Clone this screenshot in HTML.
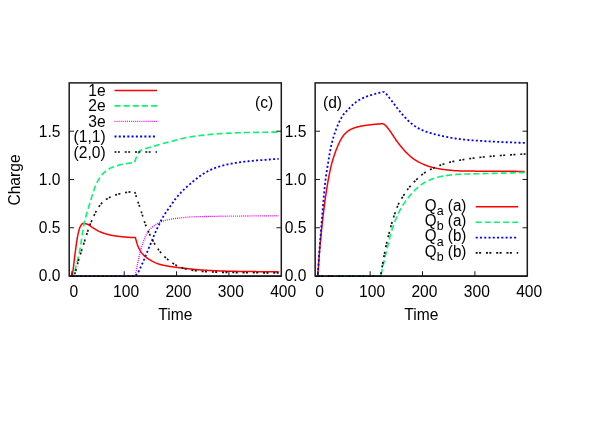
<!DOCTYPE html>
<html><head><meta charset="utf-8"><title>Charge vs Time</title>
<style>
html,body{margin:0;padding:0;background:#fff;}
body{width:615px;height:430px;overflow:hidden;}
svg{display:block;will-change:transform;font-family:"Liberation Sans",sans-serif;font-size:15.6px;fill:#000;}
</style></head><body>
<svg width="615" height="430" viewBox="0 0 615 430">
<rect width="615" height="430" fill="#fff"/>
<path d="M71.82 276.05 L72.34 274.34 L72.87 271.54 L73.39 267.68 L73.91 263.23 L74.44 258.68 L74.96 254.51 L75.48 250.58 L76.01 246.58 L76.53 242.72 L77.06 239.25 L77.58 236.39 L78.10 233.90 L78.63 231.59 L79.15 229.57 L79.67 227.94 L80.20 226.80 L80.72 225.85 L81.25 224.98 L81.77 224.25 L82.29 223.69 L82.82 223.38 L83.34 223.32 L83.86 223.36 L84.39 223.43 L84.91 223.53 L85.43 223.66 L85.96 223.80 L86.48 223.96 L87.01 224.13 L87.53 224.31 L88.05 224.50 L88.58 224.75 L89.10 225.06 L89.62 225.41 L90.15 225.78 L90.67 226.18 L91.20 226.58 L91.72 226.98 L92.24 227.35 L92.77 227.70 L93.29 228.02 L93.81 228.34 L94.34 228.66 L94.86 228.98 L95.39 229.30 L95.91 229.61 L96.43 229.92 L96.96 230.22 L97.48 230.52 L98.00 230.80 L98.53 231.08 L99.05 231.34 L99.57 231.59 L100.10 231.82 L100.62 232.03 L101.15 232.24 L101.67 232.44 L102.19 232.63 L102.72 232.82 L103.24 233.01 L103.76 233.19 L104.29 233.37 L104.81 233.54 L105.34 233.70 L105.86 233.86 L106.38 234.02 L106.91 234.17 L107.43 234.31 L107.95 234.45 L108.48 234.58 L109.00 234.71 L109.53 234.83 L110.05 234.95 L110.57 235.06 L111.10 235.16 L111.62 235.27 L112.14 235.37 L112.67 235.47 L113.19 235.56 L113.71 235.65 L114.24 235.74 L114.76 235.83 L115.29 235.91 L115.81 235.99 L116.33 236.07 L116.86 236.15 L117.38 236.22 L117.90 236.29 L118.43 236.36 L118.95 236.42 L119.48 236.48 L120.00 236.54 L120.52 236.60 L121.05 236.65 L121.57 236.70 L122.09 236.75 L122.62 236.80 L123.14 236.84 L123.67 236.89 L124.19 236.94 L124.71 236.98 L125.24 237.03 L125.76 237.07 L126.28 237.12 L126.81 237.16 L127.33 237.20 L127.85 237.24 L128.38 237.28 L128.90 237.32 L129.43 237.35 L129.95 237.38 L130.47 237.42 L131.00 237.45 L131.52 237.47 L132.04 237.50 L132.57 237.52 L133.09 237.55 L133.62 237.57 L134.14 237.58 L134.66 237.60 L135.19 237.61 L135.34 237.61 L135.34 237.61 L135.87 239.56 L136.39 241.42 L136.91 243.15 L137.44 244.73 L137.96 246.14 L138.49 247.35 L139.01 248.46 L139.53 249.48 L140.06 250.43 L140.58 251.30 L141.10 252.10 L141.63 252.81 L142.15 253.44 L142.68 254.03 L143.20 254.60 L143.72 255.13 L144.25 255.64 L144.77 256.13 L145.29 256.59 L145.82 257.03 L146.34 257.45 L146.87 257.85 L147.39 258.23 L147.91 258.59 L148.44 258.94 L148.96 259.28 L149.48 259.60 L150.01 259.91 L150.53 260.22 L151.05 260.52 L151.58 260.82 L152.10 261.11 L152.63 261.39 L153.15 261.66 L153.67 261.93 L154.20 262.18 L154.72 262.43 L155.24 262.67 L155.77 262.90 L156.29 263.12 L156.82 263.33 L157.34 263.53 L157.86 263.72 L158.39 263.90 L158.91 264.07 L159.43 264.22 L159.96 264.37 L160.48 264.51 L161.01 264.65 L161.53 264.78 L162.05 264.91 L162.58 265.03 L163.10 265.15 L163.62 265.27 L164.15 265.38 L164.67 265.49 L165.19 265.59 L165.72 265.69 L166.24 265.79 L166.77 265.89 L167.29 265.98 L167.81 266.07 L168.34 266.16 L168.86 266.25 L169.38 266.34 L169.91 266.42 L170.43 266.50 L170.96 266.59 L171.48 266.67 L172.00 266.75 L172.53 266.83 L173.05 266.90 L173.57 266.98 L174.10 267.05 L174.62 267.13 L175.15 267.20 L175.67 267.27 L176.19 267.33 L176.72 267.40 L177.24 267.47 L177.76 267.53 L178.29 267.59 L178.81 267.66 L179.33 267.72 L179.86 267.78 L180.38 267.84 L180.91 267.90 L181.43 267.96 L181.95 268.01 L182.48 268.07 L183.00 268.13 L183.52 268.19 L184.05 268.24 L184.57 268.30 L185.10 268.36 L185.62 268.42 L186.14 268.47 L186.67 268.53 L187.19 268.59 L187.71 268.65 L188.24 268.70 L188.76 268.76 L189.29 268.82 L189.81 268.88 L190.33 268.93 L190.86 268.99 L191.38 269.05 L191.90 269.10 L192.43 269.16 L192.95 269.21 L193.47 269.27 L194.00 269.32 L194.52 269.38 L195.05 269.43 L195.57 269.48 L196.09 269.53 L196.62 269.58 L197.14 269.63 L197.66 269.67 L198.19 269.72 L198.71 269.76 L199.24 269.81 L199.76 269.85 L200.28 269.89 L200.81 269.93 L201.33 269.97 L201.85 270.00 L202.38 270.04 L202.90 270.07 L203.43 270.10 L203.95 270.14 L204.47 270.17 L205.00 270.20 L205.52 270.23 L206.04 270.26 L206.57 270.29 L207.09 270.32 L207.61 270.35 L208.14 270.38 L208.66 270.41 L209.19 270.44 L209.71 270.47 L210.23 270.50 L210.76 270.52 L211.28 270.55 L211.80 270.58 L212.33 270.60 L212.85 270.63 L213.38 270.66 L213.90 270.68 L214.42 270.71 L214.95 270.73 L215.47 270.76 L215.99 270.78 L216.52 270.80 L217.04 270.83 L217.57 270.85 L218.09 270.87 L218.61 270.89 L219.14 270.91 L219.66 270.93 L220.18 270.95 L220.71 270.97 L221.23 270.99 L221.75 271.01 L222.28 271.03 L222.80 271.05 L223.33 271.07 L223.85 271.08 L224.37 271.10 L224.90 271.12 L225.42 271.13 L225.94 271.15 L226.47 271.16 L226.99 271.17 L227.52 271.19 L228.04 271.20 L228.56 271.21 L229.09 271.22 L229.61 271.24 L230.13 271.25 L230.66 271.26 L231.18 271.27 L231.71 271.28 L232.23 271.29 L232.75 271.30 L233.28 271.31 L233.80 271.32 L234.32 271.33 L234.85 271.34 L235.37 271.35 L235.89 271.36 L236.42 271.37 L236.94 271.38 L237.47 271.38 L237.99 271.39 L238.51 271.40 L239.04 271.41 L239.56 271.42 L240.08 271.42 L240.61 271.43 L241.13 271.44 L241.66 271.45 L242.18 271.45 L242.70 271.46 L243.23 271.47 L243.75 271.48 L244.27 271.48 L244.80 271.49 L245.32 271.50 L245.85 271.50 L246.37 271.51 L246.89 271.52 L247.42 271.52 L247.94 271.53 L248.46 271.53 L248.99 271.54 L249.51 271.55 L250.03 271.55 L250.56 271.56 L251.08 271.56 L251.61 271.57 L252.13 271.58 L252.65 271.58 L253.18 271.59 L253.70 271.59 L254.22 271.60 L254.75 271.60 L255.27 271.61 L255.80 271.61 L256.32 271.62 L256.84 271.63 L257.37 271.63 L257.89 271.64 L258.41 271.64 L258.94 271.65 L259.46 271.65 L259.99 271.66 L260.51 271.66 L261.03 271.67 L261.56 271.67 L262.08 271.68 L262.60 271.68 L263.13 271.69 L263.65 271.69 L264.17 271.70 L264.70 271.70 L265.22 271.71 L265.75 271.71 L266.27 271.71 L266.79 271.72 L267.32 271.72 L267.84 271.73 L268.36 271.73 L268.89 271.74 L269.41 271.74 L269.94 271.74 L270.46 271.75 L270.98 271.75 L271.51 271.76 L272.03 271.76 L272.55 271.76 L273.08 271.77 L273.60 271.77 L274.13 271.77 L274.65 271.78 L275.17 271.78 L275.70 271.78 L276.22 271.79 L276.74 271.79 L277.27 271.79 L277.79 271.80 L278.31 271.80 L278.68 271.80" fill="none" stroke="#ff0000" stroke-width="1.5" stroke-linejoin="round"/>
<path d="M71.82 276.05 L72.34 275.95 L72.87 275.69 L73.39 275.31 L73.91 274.70 L74.44 273.21 L74.96 271.06 L75.48 268.66 L76.01 266.39 L76.53 264.33 L77.06 262.24 L77.58 260.12 L78.10 257.94 L78.63 255.67 L79.15 253.30 L79.67 250.80 L80.20 248.11 L80.72 245.03 L81.25 241.65 L81.77 238.10 L82.29 234.51 L82.82 231.03 L83.34 227.77 L83.86 224.88 L84.39 222.43 L84.91 220.20 L85.43 218.13 L85.96 216.18 L86.48 214.33 L87.01 212.55 L87.53 210.83 L88.05 209.12 L88.58 207.42 L89.10 205.68 L89.62 203.90 L90.15 202.14 L90.67 200.41 L91.20 198.70 L91.72 197.02 L92.24 195.38 L92.77 193.77 L93.29 192.14 L93.81 190.54 L94.34 188.99 L94.86 187.51 L95.39 186.16 L95.91 184.93 L96.43 183.76 L96.96 182.66 L97.48 181.61 L98.00 180.62 L98.53 179.69 L99.05 178.83 L99.57 178.04 L100.10 177.27 L100.62 176.54 L101.15 175.85 L101.67 175.19 L102.19 174.56 L102.72 173.97 L103.24 173.42 L103.76 172.91 L104.29 172.43 L104.81 171.97 L105.34 171.53 L105.86 171.11 L106.38 170.71 L106.91 170.32 L107.43 169.95 L107.95 169.60 L108.48 169.27 L109.00 168.95 L109.53 168.66 L110.05 168.38 L110.57 168.12 L111.10 167.87 L111.62 167.64 L112.14 167.41 L112.67 167.20 L113.19 167.00 L113.71 166.80 L114.24 166.62 L114.76 166.44 L115.29 166.26 L115.81 166.09 L116.33 165.92 L116.86 165.76 L117.38 165.60 L117.90 165.44 L118.43 165.29 L118.95 165.15 L119.48 165.00 L120.00 164.87 L120.52 164.74 L121.05 164.61 L121.57 164.50 L122.09 164.39 L122.62 164.28 L123.14 164.18 L123.67 164.09 L124.19 164.00 L124.71 163.91 L125.24 163.83 L125.76 163.74 L126.28 163.66 L126.81 163.58 L127.33 163.50 L127.85 163.43 L128.38 163.35 L128.90 163.27 L129.43 163.19 L129.95 163.11 L130.47 163.04 L131.00 162.96 L131.52 162.89 L132.04 162.82 L132.57 162.75 L133.09 162.68 L133.62 162.61 L134.14 162.54 L134.66 162.48 L134.66 162.48 L135.19 160.72 L135.71 159.07 L136.23 157.59 L136.76 156.30 L137.28 155.12 L137.81 153.99 L138.33 152.95 L138.85 152.08 L139.38 151.41 L139.90 150.99 L140.42 150.65 L140.95 150.35 L141.47 150.08 L141.99 149.85 L142.52 149.65 L143.04 149.46 L143.57 149.28 L144.09 149.11 L144.61 148.94 L145.14 148.76 L145.66 148.58 L146.18 148.41 L146.71 148.25 L147.23 148.09 L147.76 147.93 L148.28 147.78 L148.80 147.64 L149.33 147.49 L149.85 147.35 L150.37 147.21 L150.90 147.07 L151.42 146.93 L151.95 146.79 L152.47 146.65 L152.99 146.50 L153.52 146.35 L154.04 146.19 L154.56 146.04 L155.09 145.88 L155.61 145.72 L156.13 145.56 L156.66 145.39 L157.18 145.23 L157.71 145.07 L158.23 144.90 L158.75 144.74 L159.28 144.58 L159.80 144.41 L160.32 144.25 L160.85 144.09 L161.37 143.94 L161.90 143.78 L162.42 143.63 L162.94 143.47 L163.47 143.33 L163.99 143.18 L164.51 143.04 L165.04 142.90 L165.56 142.77 L166.09 142.64 L166.61 142.51 L167.13 142.39 L167.66 142.27 L168.18 142.15 L168.70 142.03 L169.23 141.91 L169.75 141.79 L170.27 141.67 L170.80 141.55 L171.32 141.43 L171.85 141.30 L172.37 141.17 L172.89 141.04 L173.42 140.90 L173.94 140.76 L174.46 140.61 L174.99 140.45 L175.51 140.30 L176.04 140.14 L176.56 139.98 L177.08 139.83 L177.61 139.68 L178.13 139.53 L178.65 139.38 L179.18 139.24 L179.70 139.11 L180.23 138.99 L180.75 138.87 L181.27 138.75 L181.80 138.63 L182.32 138.51 L182.84 138.40 L183.37 138.29 L183.89 138.17 L184.41 138.06 L184.94 137.96 L185.46 137.85 L185.99 137.74 L186.51 137.64 L187.03 137.54 L187.56 137.43 L188.08 137.33 L188.60 137.24 L189.13 137.14 L189.65 137.05 L190.18 136.95 L190.70 136.86 L191.22 136.77 L191.75 136.68 L192.27 136.60 L192.79 136.51 L193.32 136.43 L193.84 136.35 L194.37 136.27 L194.89 136.20 L195.41 136.12 L195.94 136.05 L196.46 135.97 L196.98 135.90 L197.51 135.83 L198.03 135.76 L198.55 135.69 L199.08 135.63 L199.60 135.56 L200.13 135.50 L200.65 135.43 L201.17 135.37 L201.70 135.31 L202.22 135.24 L202.74 135.18 L203.27 135.13 L203.79 135.07 L204.32 135.01 L204.84 134.95 L205.36 134.90 L205.89 134.84 L206.41 134.79 L206.93 134.74 L207.46 134.69 L207.98 134.64 L208.51 134.59 L209.03 134.54 L209.55 134.49 L210.08 134.44 L210.60 134.40 L211.12 134.35 L211.65 134.31 L212.17 134.26 L212.69 134.22 L213.22 134.18 L213.74 134.14 L214.27 134.10 L214.79 134.05 L215.31 134.01 L215.84 133.98 L216.36 133.94 L216.88 133.90 L217.41 133.86 L217.93 133.82 L218.46 133.79 L218.98 133.75 L219.50 133.72 L220.03 133.68 L220.55 133.65 L221.07 133.61 L221.60 133.58 L222.12 133.55 L222.65 133.52 L223.17 133.48 L223.69 133.45 L224.22 133.42 L224.74 133.39 L225.26 133.36 L225.79 133.33 L226.31 133.31 L226.83 133.28 L227.36 133.25 L227.88 133.22 L228.41 133.19 L228.93 133.17 L229.45 133.14 L229.98 133.11 L230.50 133.09 L231.02 133.06 L231.55 133.03 L232.07 133.01 L232.60 132.98 L233.12 132.96 L233.64 132.93 L234.17 132.91 L234.69 132.88 L235.21 132.86 L235.74 132.84 L236.26 132.82 L236.79 132.80 L237.31 132.78 L237.83 132.76 L238.36 132.74 L238.88 132.72 L239.40 132.70 L239.93 132.68 L240.45 132.67 L240.97 132.65 L241.50 132.64 L242.02 132.62 L242.55 132.61 L243.07 132.60 L243.59 132.59 L244.12 132.57 L244.64 132.56 L245.16 132.55 L245.69 132.54 L246.21 132.53 L246.74 132.52 L247.26 132.51 L247.78 132.50 L248.31 132.49 L248.83 132.48 L249.35 132.47 L249.88 132.46 L250.40 132.45 L250.93 132.44 L251.45 132.43 L251.97 132.42 L252.50 132.42 L253.02 132.41 L253.54 132.40 L254.07 132.39 L254.59 132.38 L255.11 132.38 L255.64 132.37 L256.16 132.36 L256.69 132.35 L257.21 132.34 L257.73 132.33 L258.26 132.33 L258.78 132.32 L259.30 132.31 L259.83 132.30 L260.35 132.29 L260.88 132.29 L261.40 132.28 L261.92 132.27 L262.45 132.26 L262.97 132.25 L263.49 132.25 L264.02 132.24 L264.54 132.23 L265.07 132.22 L265.59 132.22 L266.11 132.21 L266.64 132.20 L267.16 132.20 L267.68 132.19 L268.21 132.18 L268.73 132.17 L269.25 132.17 L269.78 132.16 L270.30 132.15 L270.83 132.15 L271.35 132.14 L271.87 132.13 L272.40 132.13 L272.92 132.12 L273.44 132.11 L273.97 132.11 L274.49 132.10 L275.02 132.10 L275.54 132.09 L276.06 132.08 L276.59 132.08 L277.11 132.07 L277.63 132.07 L278.16 132.06 L278.68 132.06" fill="none" stroke="#0cf474" stroke-width="1.65" stroke-dasharray="6.0 3.135" stroke-dashoffset="3" stroke-linejoin="round"/>
<path d="M71.82 276.05 L72.34 276.05 L72.87 276.05 L73.39 276.05 L73.91 276.05 L74.44 276.05 L74.96 276.05 L75.48 276.05 L76.01 276.05 L76.53 276.05 L77.06 276.05 L77.58 276.05 L78.10 276.05 L78.63 276.05 L79.15 276.05 L79.67 276.05 L80.20 276.05 L80.72 276.05 L81.25 276.05 L81.77 276.05 L82.29 276.05 L82.82 276.05 L83.34 276.05 L83.86 276.05 L84.39 276.05 L84.91 276.05 L85.43 276.05 L85.96 276.05 L86.48 276.05 L87.01 276.05 L87.53 276.05 L88.05 276.05 L88.58 276.05 L89.10 276.05 L89.62 276.05 L90.15 276.05 L90.67 276.05 L91.20 276.05 L91.72 276.05 L92.24 276.05 L92.77 276.05 L93.29 276.05 L93.81 276.05 L94.34 276.05 L94.86 276.05 L95.39 276.05 L95.91 276.05 L96.43 276.05 L96.96 276.05 L97.48 276.05 L98.00 276.05 L98.53 276.05 L99.05 276.05 L99.57 276.05 L100.10 276.05 L100.62 276.05 L101.15 276.05 L101.67 276.05 L102.19 276.05 L102.72 276.05 L103.24 276.05 L103.76 276.05 L104.29 276.05 L104.81 276.05 L105.34 276.05 L105.86 276.05 L106.38 276.05 L106.91 276.05 L107.43 276.05 L107.95 276.05 L108.48 276.05 L109.00 276.05 L109.53 276.05 L110.05 276.05 L110.57 276.05 L111.10 276.05 L111.62 276.05 L112.14 276.05 L112.67 276.05 L113.19 276.05 L113.71 276.05 L114.24 276.05 L114.76 276.05 L115.29 276.05 L115.81 276.05 L116.33 276.05 L116.86 276.05 L117.38 276.05 L117.90 276.05 L118.43 276.05 L118.95 276.05 L119.48 276.05 L120.00 276.05 L120.52 276.05 L121.05 276.05 L121.57 276.05 L122.09 276.05 L122.62 276.05 L123.14 276.05 L123.67 276.05 L124.19 276.05 L124.71 276.05 L125.24 276.05 L125.76 276.05 L126.28 276.05 L126.81 276.05 L127.33 276.05 L127.85 276.05 L128.38 276.05 L128.90 276.05 L129.43 276.05 L129.95 276.05 L130.47 276.05 L131.00 276.05 L131.52 276.05 L132.04 276.05 L132.57 276.05 L133.09 276.05 L133.62 276.05 L134.14 276.05 L134.66 276.05 L135.19 276.05 L135.19 276.05 L135.71 273.30 L136.23 270.60 L136.76 267.94 L137.28 265.33 L137.81 262.76 L138.33 260.17 L138.85 257.64 L139.38 255.27 L139.90 253.14 L140.42 251.14 L140.95 249.26 L141.47 247.48 L141.99 245.79 L142.52 244.16 L143.04 242.56 L143.57 241.02 L144.09 239.56 L144.61 238.20 L145.14 236.98 L145.66 235.89 L146.18 234.87 L146.71 233.91 L147.23 233.01 L147.76 232.17 L148.28 231.39 L148.80 230.67 L149.33 230.02 L149.85 229.40 L150.37 228.83 L150.90 228.28 L151.42 227.78 L151.95 227.30 L152.47 226.86 L152.99 226.45 L153.52 226.06 L154.04 225.68 L154.56 225.31 L155.09 224.96 L155.61 224.61 L156.13 224.28 L156.66 223.96 L157.18 223.65 L157.71 223.35 L158.23 223.08 L158.75 222.81 L159.28 222.56 L159.80 222.33 L160.32 222.11 L160.85 221.91 L161.37 221.72 L161.90 221.53 L162.42 221.34 L162.94 221.17 L163.47 220.99 L163.99 220.82 L164.51 220.66 L165.04 220.50 L165.56 220.35 L166.09 220.20 L166.61 220.06 L167.13 219.92 L167.66 219.79 L168.18 219.67 L168.70 219.55 L169.23 219.43 L169.75 219.32 L170.27 219.22 L170.80 219.12 L171.32 219.02 L171.85 218.94 L172.37 218.85 L172.89 218.78 L173.42 218.70 L173.94 218.63 L174.46 218.56 L174.99 218.50 L175.51 218.44 L176.04 218.38 L176.56 218.32 L177.08 218.27 L177.61 218.21 L178.13 218.16 L178.65 218.11 L179.18 218.06 L179.70 218.01 L180.23 217.97 L180.75 217.92 L181.27 217.87 L181.80 217.82 L182.32 217.77 L182.84 217.72 L183.37 217.67 L183.89 217.62 L184.41 217.56 L184.94 217.51 L185.46 217.45 L185.99 217.38 L186.51 217.31 L187.03 217.25 L187.56 217.18 L188.08 217.12 L188.60 217.06 L189.13 217.01 L189.65 216.97 L190.18 216.95 L190.70 216.93 L191.22 216.90 L191.75 216.88 L192.27 216.86 L192.79 216.85 L193.32 216.83 L193.84 216.81 L194.37 216.79 L194.89 216.77 L195.41 216.76 L195.94 216.74 L196.46 216.72 L196.98 216.71 L197.51 216.69 L198.03 216.68 L198.55 216.66 L199.08 216.65 L199.60 216.63 L200.13 216.62 L200.65 216.60 L201.17 216.59 L201.70 216.58 L202.22 216.57 L202.74 216.55 L203.27 216.54 L203.79 216.53 L204.32 216.52 L204.84 216.51 L205.36 216.50 L205.89 216.49 L206.41 216.48 L206.93 216.46 L207.46 216.46 L207.98 216.45 L208.51 216.44 L209.03 216.43 L209.55 216.42 L210.08 216.41 L210.60 216.40 L211.12 216.39 L211.65 216.38 L212.17 216.38 L212.69 216.37 L213.22 216.36 L213.74 216.35 L214.27 216.35 L214.79 216.34 L215.31 216.33 L215.84 216.32 L216.36 216.32 L216.88 216.31 L217.41 216.30 L217.93 216.30 L218.46 216.29 L218.98 216.29 L219.50 216.28 L220.03 216.27 L220.55 216.27 L221.07 216.26 L221.60 216.26 L222.12 216.25 L222.65 216.24 L223.17 216.24 L223.69 216.23 L224.22 216.23 L224.74 216.22 L225.26 216.21 L225.79 216.21 L226.31 216.20 L226.83 216.20 L227.36 216.19 L227.88 216.19 L228.41 216.18 L228.93 216.17 L229.45 216.17 L229.98 216.16 L230.50 216.16 L231.02 216.15 L231.55 216.14 L232.07 216.14 L232.60 216.13 L233.12 216.13 L233.64 216.12 L234.17 216.11 L234.69 216.11 L235.21 216.10 L235.74 216.10 L236.26 216.09 L236.79 216.09 L237.31 216.08 L237.83 216.07 L238.36 216.07 L238.88 216.06 L239.40 216.06 L239.93 216.05 L240.45 216.05 L240.97 216.04 L241.50 216.03 L242.02 216.03 L242.55 216.02 L243.07 216.02 L243.59 216.01 L244.12 216.01 L244.64 216.00 L245.16 216.00 L245.69 215.99 L246.21 215.99 L246.74 215.98 L247.26 215.98 L247.78 215.97 L248.31 215.97 L248.83 215.96 L249.35 215.96 L249.88 215.95 L250.40 215.95 L250.93 215.94 L251.45 215.94 L251.97 215.93 L252.50 215.93 L253.02 215.92 L253.54 215.92 L254.07 215.91 L254.59 215.91 L255.11 215.90 L255.64 215.90 L256.16 215.90 L256.69 215.89 L257.21 215.89 L257.73 215.88 L258.26 215.88 L258.78 215.88 L259.30 215.87 L259.83 215.87 L260.35 215.86 L260.88 215.86 L261.40 215.86 L261.92 215.85 L262.45 215.85 L262.97 215.85 L263.49 215.84 L264.02 215.84 L264.54 215.84 L265.07 215.83 L265.59 215.83 L266.11 215.83 L266.64 215.83 L267.16 215.82 L267.68 215.82 L268.21 215.82 L268.73 215.82 L269.25 215.81 L269.78 215.81 L270.30 215.81 L270.83 215.81 L271.35 215.80 L271.87 215.80 L272.40 215.80 L272.92 215.80 L273.44 215.80 L273.97 215.80 L274.49 215.79 L275.02 215.79 L275.54 215.79 L276.06 215.79 L276.59 215.79 L277.11 215.79 L277.63 215.79 L278.16 215.79 L278.68 215.79" fill="none" stroke="#ff00ff" stroke-width="1.35" stroke-dasharray="1 1.07" stroke-linejoin="round"/>
<path d="M71.82 276.05 L72.34 276.05 L72.87 276.05 L73.39 276.05 L73.91 276.05 L74.44 276.05 L74.96 276.05 L75.48 276.05 L76.01 276.05 L76.53 276.05 L77.06 276.05 L77.58 276.05 L78.10 276.05 L78.63 276.05 L79.15 276.05 L79.67 276.05 L80.20 276.05 L80.72 276.05 L81.25 276.05 L81.77 276.05 L82.29 276.05 L82.82 276.05 L83.34 276.05 L83.86 276.05 L84.39 276.05 L84.91 276.05 L85.43 276.05 L85.96 276.05 L86.48 276.05 L87.01 276.05 L87.53 276.05 L88.05 276.05 L88.58 276.05 L89.10 276.05 L89.62 276.05 L90.15 276.05 L90.67 276.05 L91.20 276.05 L91.72 276.05 L92.24 276.05 L92.77 276.05 L93.29 276.05 L93.81 276.05 L94.34 276.05 L94.86 276.05 L95.39 276.05 L95.91 276.05 L96.43 276.05 L96.96 276.05 L97.48 276.05 L98.00 276.05 L98.53 276.05 L99.05 276.05 L99.57 276.05 L100.10 276.05 L100.62 276.05 L101.15 276.05 L101.67 276.05 L102.19 276.05 L102.72 276.05 L103.24 276.05 L103.76 276.05 L104.29 276.05 L104.81 276.05 L105.34 276.05 L105.86 276.05 L106.38 276.05 L106.91 276.05 L107.43 276.05 L107.95 276.05 L108.48 276.05 L109.00 276.05 L109.53 276.05 L110.05 276.05 L110.57 276.05 L111.10 276.05 L111.62 276.05 L112.14 276.05 L112.67 276.05 L113.19 276.05 L113.71 276.05 L114.24 276.05 L114.76 276.05 L115.29 276.05 L115.81 276.05 L116.33 276.05 L116.86 276.05 L117.38 276.05 L117.90 276.05 L118.43 276.05 L118.95 276.05 L119.48 276.05 L120.00 276.05 L120.52 276.05 L121.05 276.05 L121.57 276.05 L122.09 276.05 L122.62 276.05 L123.14 276.05 L123.67 276.05 L124.19 276.05 L124.71 276.05 L125.24 276.05 L125.76 276.05 L126.28 276.05 L126.81 276.05 L127.33 276.05 L127.85 276.05 L128.38 276.05 L128.90 276.05 L129.43 276.05 L129.95 276.05 L130.47 276.05 L131.00 276.05 L131.52 276.05 L132.04 276.05 L132.57 276.05 L133.09 276.05 L133.62 276.05 L134.14 276.05 L134.66 276.05 L135.19 276.05 L135.19 276.05 L135.71 275.58 L136.23 275.04 L136.76 274.42 L137.28 273.74 L137.81 273.00 L138.33 272.15 L138.85 271.18 L139.38 270.12 L139.90 268.99 L140.42 267.82 L140.95 266.63 L141.47 265.45 L141.99 264.29 L142.52 263.12 L143.04 261.93 L143.57 260.72 L144.09 259.49 L144.61 258.25 L145.14 257.00 L145.66 255.74 L146.18 254.47 L146.71 253.20 L147.23 251.92 L147.76 250.65 L148.28 249.39 L148.80 248.13 L149.33 246.88 L149.85 245.63 L150.37 244.37 L150.90 243.09 L151.42 241.81 L151.95 240.52 L152.47 239.24 L152.99 237.96 L153.52 236.69 L154.04 235.43 L154.56 234.18 L155.09 232.96 L155.61 231.77 L156.13 230.60 L156.66 229.46 L157.18 228.36 L157.71 227.27 L158.23 226.19 L158.75 225.12 L159.28 224.07 L159.80 223.03 L160.32 222.01 L160.85 221.00 L161.37 220.01 L161.90 219.04 L162.42 218.10 L162.94 217.17 L163.47 216.26 L163.99 215.38 L164.51 214.52 L165.04 213.69 L165.56 212.89 L166.09 212.12 L166.61 211.37 L167.13 210.64 L167.66 209.92 L168.18 209.20 L168.70 208.49 L169.23 207.77 L169.75 207.05 L170.27 206.31 L170.80 205.56 L171.32 204.81 L171.85 204.05 L172.37 203.30 L172.89 202.54 L173.42 201.79 L173.94 201.04 L174.46 200.30 L174.99 199.58 L175.51 198.87 L176.04 198.17 L176.56 197.50 L177.08 196.85 L177.61 196.22 L178.13 195.61 L178.65 195.02 L179.18 194.44 L179.70 193.87 L180.23 193.31 L180.75 192.77 L181.27 192.23 L181.80 191.71 L182.32 191.19 L182.84 190.67 L183.37 190.16 L183.89 189.66 L184.41 189.16 L184.94 188.66 L185.46 188.16 L185.99 187.67 L186.51 187.18 L187.03 186.70 L187.56 186.22 L188.08 185.75 L188.60 185.28 L189.13 184.82 L189.65 184.36 L190.18 183.90 L190.70 183.45 L191.22 183.00 L191.75 182.56 L192.27 182.12 L192.79 181.69 L193.32 181.25 L193.84 180.82 L194.37 180.39 L194.89 179.96 L195.41 179.53 L195.94 179.11 L196.46 178.69 L196.98 178.28 L197.51 177.87 L198.03 177.47 L198.55 177.07 L199.08 176.68 L199.60 176.31 L200.13 175.94 L200.65 175.58 L201.17 175.22 L201.70 174.87 L202.22 174.53 L202.74 174.19 L203.27 173.86 L203.79 173.53 L204.32 173.20 L204.84 172.89 L205.36 172.58 L205.89 172.27 L206.41 171.98 L206.93 171.69 L207.46 171.41 L207.98 171.14 L208.51 170.87 L209.03 170.61 L209.55 170.36 L210.08 170.11 L210.60 169.87 L211.12 169.63 L211.65 169.40 L212.17 169.17 L212.69 168.95 L213.22 168.73 L213.74 168.52 L214.27 168.31 L214.79 168.11 L215.31 167.92 L215.84 167.73 L216.36 167.55 L216.88 167.37 L217.41 167.19 L217.93 167.02 L218.46 166.85 L218.98 166.68 L219.50 166.51 L220.03 166.35 L220.55 166.20 L221.07 166.04 L221.60 165.89 L222.12 165.74 L222.65 165.60 L223.17 165.45 L223.69 165.32 L224.22 165.18 L224.74 165.05 L225.26 164.92 L225.79 164.80 L226.31 164.68 L226.83 164.56 L227.36 164.44 L227.88 164.33 L228.41 164.22 L228.93 164.11 L229.45 164.00 L229.98 163.90 L230.50 163.79 L231.02 163.69 L231.55 163.59 L232.07 163.50 L232.60 163.40 L233.12 163.31 L233.64 163.22 L234.17 163.13 L234.69 163.04 L235.21 162.96 L235.74 162.87 L236.26 162.79 L236.79 162.71 L237.31 162.63 L237.83 162.55 L238.36 162.48 L238.88 162.40 L239.40 162.33 L239.93 162.25 L240.45 162.18 L240.97 162.11 L241.50 162.04 L242.02 161.97 L242.55 161.90 L243.07 161.84 L243.59 161.77 L244.12 161.71 L244.64 161.65 L245.16 161.59 L245.69 161.53 L246.21 161.47 L246.74 161.41 L247.26 161.35 L247.78 161.30 L248.31 161.24 L248.83 161.19 L249.35 161.14 L249.88 161.08 L250.40 161.03 L250.93 160.98 L251.45 160.93 L251.97 160.88 L252.50 160.84 L253.02 160.79 L253.54 160.74 L254.07 160.70 L254.59 160.65 L255.11 160.61 L255.64 160.56 L256.16 160.52 L256.69 160.47 L257.21 160.43 L257.73 160.38 L258.26 160.34 L258.78 160.30 L259.30 160.26 L259.83 160.22 L260.35 160.18 L260.88 160.14 L261.40 160.10 L261.92 160.06 L262.45 160.02 L262.97 159.99 L263.49 159.95 L264.02 159.91 L264.54 159.87 L265.07 159.83 L265.59 159.79 L266.11 159.76 L266.64 159.72 L267.16 159.68 L267.68 159.64 L268.21 159.60 L268.73 159.56 L269.25 159.52 L269.78 159.48 L270.30 159.44 L270.83 159.40 L271.35 159.36 L271.87 159.32 L272.40 159.28 L272.92 159.24 L273.44 159.20 L273.97 159.16 L274.49 159.12 L275.02 159.08 L275.54 159.04 L276.06 159.01 L276.59 158.97 L277.11 158.93 L277.63 158.89 L278.16 158.85 L278.68 158.81" fill="none" stroke="#0000ff" stroke-width="1.8" stroke-dasharray="2 2.27" stroke-linejoin="round"/>
<path d="M71.82 276.05 L72.34 275.97 L72.87 275.76 L73.39 275.45 L73.91 275.08 L74.44 274.41 L74.96 273.24 L75.48 271.68 L76.01 269.84 L76.53 267.82 L77.06 265.72 L77.58 263.67 L78.10 261.76 L78.63 260.05 L79.15 258.39 L79.67 256.72 L80.20 255.06 L80.72 253.39 L81.25 251.73 L81.77 250.07 L82.29 248.41 L82.82 246.75 L83.34 245.10 L83.86 243.45 L84.39 241.77 L84.91 240.08 L85.43 238.38 L85.96 236.69 L86.48 235.02 L87.01 233.38 L87.53 231.77 L88.05 230.22 L88.58 228.73 L89.10 227.29 L89.62 225.88 L90.15 224.51 L90.67 223.18 L91.20 221.89 L91.72 220.64 L92.24 219.43 L92.77 218.25 L93.29 217.09 L93.81 215.95 L94.34 214.84 L94.86 213.77 L95.39 212.73 L95.91 211.73 L96.43 210.79 L96.96 209.90 L97.48 209.04 L98.00 208.20 L98.53 207.38 L99.05 206.58 L99.57 205.82 L100.10 205.09 L100.62 204.40 L101.15 203.77 L101.67 203.18 L102.19 202.65 L102.72 202.17 L103.24 201.70 L103.76 201.25 L104.29 200.83 L104.81 200.42 L105.34 200.03 L105.86 199.65 L106.38 199.29 L106.91 198.95 L107.43 198.63 L107.95 198.32 L108.48 198.02 L109.00 197.74 L109.53 197.47 L110.05 197.21 L110.57 196.97 L111.10 196.73 L111.62 196.49 L112.14 196.27 L112.67 196.05 L113.19 195.84 L113.71 195.63 L114.24 195.43 L114.76 195.24 L115.29 195.06 L115.81 194.88 L116.33 194.71 L116.86 194.55 L117.38 194.39 L117.90 194.24 L118.43 194.10 L118.95 193.96 L119.48 193.83 L120.00 193.70 L120.52 193.58 L121.05 193.46 L121.57 193.35 L122.09 193.24 L122.62 193.13 L123.14 193.03 L123.67 192.93 L124.19 192.83 L124.71 192.74 L125.24 192.65 L125.76 192.56 L126.28 192.47 L126.81 192.39 L127.33 192.30 L127.85 192.22 L128.38 192.14 L128.90 192.07 L129.43 191.99 L129.95 191.92 L130.47 191.85 L131.00 191.78 L131.52 191.71 L132.04 191.64 L132.57 191.58 L133.09 191.52 L133.62 191.46 L134.14 191.41 L134.66 191.35 L134.66 191.35 L135.19 193.08 L135.71 194.78 L136.23 196.47 L136.76 198.13 L137.28 199.78 L137.81 201.40 L138.33 202.99 L138.85 204.55 L139.38 206.10 L139.90 207.63 L140.42 209.17 L140.95 210.70 L141.47 212.25 L141.99 213.83 L142.52 215.46 L143.04 217.10 L143.57 218.76 L144.09 220.41 L144.61 222.03 L145.14 223.60 L145.66 225.12 L146.18 226.55 L146.71 227.89 L147.23 229.13 L147.76 230.29 L148.28 231.39 L148.80 232.47 L149.33 233.56 L149.85 234.65 L150.37 235.73 L150.90 236.79 L151.42 237.83 L151.95 238.85 L152.47 239.84 L152.99 240.82 L153.52 241.79 L154.04 242.74 L154.56 243.68 L155.09 244.59 L155.61 245.47 L156.13 246.32 L156.66 247.12 L157.18 247.88 L157.71 248.62 L158.23 249.34 L158.75 250.04 L159.28 250.72 L159.80 251.38 L160.32 252.02 L160.85 252.65 L161.37 253.25 L161.90 253.84 L162.42 254.41 L162.94 254.97 L163.47 255.51 L163.99 256.04 L164.51 256.55 L165.04 257.06 L165.56 257.55 L166.09 258.03 L166.61 258.49 L167.13 258.95 L167.66 259.39 L168.18 259.82 L168.70 260.23 L169.23 260.64 L169.75 261.03 L170.27 261.43 L170.80 261.81 L171.32 262.19 L171.85 262.56 L172.37 262.92 L172.89 263.27 L173.42 263.61 L173.94 263.95 L174.46 264.27 L174.99 264.58 L175.51 264.87 L176.04 265.16 L176.56 265.43 L177.08 265.69 L177.61 265.94 L178.13 266.19 L178.65 266.44 L179.18 266.68 L179.70 266.91 L180.23 267.13 L180.75 267.35 L181.27 267.56 L181.80 267.76 L182.32 267.95 L182.84 268.13 L183.37 268.30 L183.89 268.46 L184.41 268.61 L184.94 268.76 L185.46 268.89 L185.99 269.02 L186.51 269.15 L187.03 269.27 L187.56 269.39 L188.08 269.50 L188.60 269.61 L189.13 269.71 L189.65 269.81 L190.18 269.91 L190.70 270.00 L191.22 270.09 L191.75 270.17 L192.27 270.26 L192.79 270.34 L193.32 270.42 L193.84 270.49 L194.37 270.57 L194.89 270.65 L195.41 270.72 L195.94 270.80 L196.46 270.87 L196.98 270.94 L197.51 271.01 L198.03 271.07 L198.55 271.13 L199.08 271.19 L199.60 271.25 L200.13 271.30 L200.65 271.35 L201.17 271.40 L201.70 271.44 L202.22 271.48 L202.74 271.51 L203.27 271.54 L203.79 271.57 L204.32 271.60 L204.84 271.63 L205.36 271.66 L205.89 271.69 L206.41 271.72 L206.93 271.75 L207.46 271.78 L207.98 271.80 L208.51 271.83 L209.03 271.86 L209.55 271.88 L210.08 271.91 L210.60 271.93 L211.12 271.96 L211.65 271.98 L212.17 272.00 L212.69 272.02 L213.22 272.05 L213.74 272.07 L214.27 272.09 L214.79 272.11 L215.31 272.13 L215.84 272.15 L216.36 272.17 L216.88 272.19 L217.41 272.20 L217.93 272.22 L218.46 272.24 L218.98 272.25 L219.50 272.27 L220.03 272.29 L220.55 272.30 L221.07 272.32 L221.60 272.33 L222.12 272.34 L222.65 272.36 L223.17 272.37 L223.69 272.38 L224.22 272.39 L224.74 272.40 L225.26 272.41 L225.79 272.43 L226.31 272.43 L226.83 272.44 L227.36 272.45 L227.88 272.46 L228.41 272.47 L228.93 272.48 L229.45 272.48 L229.98 272.49 L230.50 272.50 L231.02 272.51 L231.55 272.51 L232.07 272.52 L232.60 272.53 L233.12 272.53 L233.64 272.54 L234.17 272.55 L234.69 272.55 L235.21 272.56 L235.74 272.57 L236.26 272.57 L236.79 272.58 L237.31 272.59 L237.83 272.59 L238.36 272.60 L238.88 272.60 L239.40 272.61 L239.93 272.62 L240.45 272.62 L240.97 272.63 L241.50 272.63 L242.02 272.64 L242.55 272.65 L243.07 272.65 L243.59 272.66 L244.12 272.66 L244.64 272.67 L245.16 272.67 L245.69 272.68 L246.21 272.69 L246.74 272.69 L247.26 272.70 L247.78 272.70 L248.31 272.71 L248.83 272.71 L249.35 272.72 L249.88 272.72 L250.40 272.73 L250.93 272.73 L251.45 272.74 L251.97 272.74 L252.50 272.74 L253.02 272.75 L253.54 272.75 L254.07 272.76 L254.59 272.76 L255.11 272.77 L255.64 272.77 L256.16 272.77 L256.69 272.78 L257.21 272.78 L257.73 272.79 L258.26 272.79 L258.78 272.79 L259.30 272.80 L259.83 272.80 L260.35 272.80 L260.88 272.81 L261.40 272.81 L261.92 272.81 L262.45 272.82 L262.97 272.82 L263.49 272.82 L264.02 272.82 L264.54 272.83 L265.07 272.83 L265.59 272.83 L266.11 272.83 L266.64 272.84 L267.16 272.84 L267.68 272.84 L268.21 272.84 L268.73 272.84 L269.25 272.85 L269.78 272.85 L270.30 272.85 L270.83 272.85 L271.35 272.85 L271.87 272.85 L272.40 272.86 L272.92 272.86 L273.44 272.86 L273.97 272.86 L274.49 272.86 L275.02 272.86 L275.54 272.86 L276.06 272.86 L276.59 272.86 L277.11 272.86 L277.63 272.86 L278.16 272.86 L278.68 272.86" fill="none" stroke="#111111" stroke-width="1.65" stroke-dasharray="2 1.4 2 4.85" stroke-dashoffset="6.73" stroke-linejoin="round"/>
<rect x="69.2" y="82.9" width="212.10000000000002" height="193.15" fill="none" stroke="#1c1c1c" stroke-width="1.5"/>
<path d="M69.2 276.15000000000003H281.3" stroke="#000" stroke-width="1.0" fill="none"/>
<path d="M69.2 227.76h4.8 M281.3 227.76h-4.8 M69.2 179.48h4.8 M281.3 179.48h-4.8 M69.2 131.19h4.8 M281.3 131.19h-4.8 M71.82 276.05v-4.8 M124.19 276.05v-4.8 M176.56 276.05v-4.8 M228.93 276.05v-4.8" stroke="#1a1a1a" stroke-width="1.0" fill="none"/>
<path d="M317.77 276.05 L318.29 268.25 L318.82 260.84 L319.34 253.90 L319.86 247.49 L320.39 241.60 L320.91 236.09 L321.44 230.90 L321.96 225.99 L322.48 221.29 L323.01 216.76 L323.53 212.36 L324.06 208.10 L324.58 204.00 L325.10 200.07 L325.63 196.33 L326.15 192.77 L326.67 189.39 L327.20 186.13 L327.72 183.00 L328.25 179.99 L328.77 177.12 L329.29 174.38 L329.82 171.79 L330.34 169.34 L330.86 167.05 L331.39 164.91 L331.91 162.90 L332.44 161.01 L332.96 159.22 L333.48 157.53 L334.01 155.91 L334.53 154.38 L335.06 152.91 L335.58 151.50 L336.10 150.11 L336.63 148.76 L337.15 147.45 L337.67 146.19 L338.20 144.99 L338.72 143.85 L339.25 142.78 L339.77 141.75 L340.29 140.73 L340.82 139.75 L341.34 138.79 L341.87 137.89 L342.39 137.03 L342.91 136.24 L343.44 135.52 L343.96 134.88 L344.48 134.30 L345.01 133.76 L345.53 133.23 L346.06 132.74 L346.58 132.26 L347.10 131.82 L347.63 131.39 L348.15 131.00 L348.67 130.63 L349.20 130.29 L349.72 129.97 L350.25 129.68 L350.77 129.42 L351.29 129.16 L351.82 128.92 L352.34 128.69 L352.87 128.48 L353.39 128.27 L353.91 128.07 L354.44 127.88 L354.96 127.70 L355.48 127.52 L356.01 127.36 L356.53 127.20 L357.06 127.06 L357.58 126.92 L358.10 126.79 L358.63 126.66 L359.15 126.54 L359.68 126.43 L360.20 126.32 L360.72 126.21 L361.25 126.11 L361.77 126.01 L362.29 125.92 L362.82 125.83 L363.34 125.74 L363.87 125.66 L364.39 125.58 L364.91 125.50 L365.44 125.42 L365.96 125.34 L366.49 125.27 L367.01 125.20 L367.53 125.13 L368.06 125.06 L368.58 124.99 L369.10 124.92 L369.63 124.85 L370.15 124.79 L370.68 124.73 L371.20 124.67 L371.72 124.61 L372.25 124.55 L372.77 124.49 L373.29 124.44 L373.82 124.39 L374.34 124.33 L374.87 124.28 L375.39 124.23 L375.91 124.19 L376.44 124.14 L376.96 124.09 L377.49 124.05 L378.01 124.00 L378.53 123.96 L379.06 123.92 L379.58 123.88 L380.10 123.84 L380.63 123.80 L381.15 123.76 L381.68 123.72 L382.20 123.69 L382.72 123.65 L382.72 123.65 L383.25 123.87 L383.77 124.14 L384.30 124.46 L384.82 124.81 L385.34 125.24 L385.87 125.74 L386.39 126.31 L386.91 126.94 L387.44 127.60 L387.96 128.28 L388.49 128.97 L389.01 129.64 L389.53 130.33 L390.06 131.04 L390.58 131.78 L391.10 132.55 L391.63 133.33 L392.15 134.13 L392.68 134.93 L393.20 135.74 L393.72 136.55 L394.25 137.36 L394.77 138.16 L395.30 138.95 L395.82 139.72 L396.34 140.47 L396.87 141.20 L397.39 141.89 L397.91 142.58 L398.44 143.27 L398.96 143.94 L399.49 144.62 L400.01 145.28 L400.53 145.94 L401.06 146.58 L401.58 147.22 L402.11 147.85 L402.63 148.46 L403.15 149.07 L403.68 149.66 L404.20 150.24 L404.72 150.81 L405.25 151.36 L405.77 151.90 L406.30 152.44 L406.82 152.97 L407.34 153.49 L407.87 154.01 L408.39 154.51 L408.92 155.01 L409.44 155.50 L409.96 155.98 L410.49 156.44 L411.01 156.89 L411.53 157.33 L412.06 157.75 L412.58 158.16 L413.11 158.55 L413.63 158.92 L414.15 159.28 L414.68 159.62 L415.20 159.96 L415.72 160.29 L416.25 160.62 L416.77 160.93 L417.30 161.23 L417.82 161.53 L418.34 161.82 L418.87 162.10 L419.39 162.37 L419.92 162.64 L420.44 162.89 L420.96 163.15 L421.49 163.39 L422.01 163.64 L422.53 163.87 L423.06 164.11 L423.58 164.34 L424.11 164.56 L424.63 164.78 L425.15 165.00 L425.68 165.21 L426.20 165.41 L426.73 165.61 L427.25 165.80 L427.77 165.99 L428.30 166.17 L428.82 166.34 L429.34 166.50 L429.87 166.66 L430.39 166.81 L430.92 166.96 L431.44 167.11 L431.96 167.25 L432.49 167.38 L433.01 167.51 L433.53 167.64 L434.06 167.77 L434.58 167.89 L435.11 168.01 L435.63 168.12 L436.15 168.23 L436.68 168.33 L437.20 168.44 L437.73 168.53 L438.25 168.63 L438.77 168.72 L439.30 168.81 L439.82 168.90 L440.34 168.99 L440.87 169.07 L441.39 169.16 L441.92 169.24 L442.44 169.32 L442.96 169.40 L443.49 169.47 L444.01 169.54 L444.54 169.62 L445.06 169.68 L445.58 169.75 L446.11 169.81 L446.63 169.87 L447.15 169.93 L447.68 169.99 L448.20 170.04 L448.73 170.10 L449.25 170.15 L449.77 170.20 L450.30 170.26 L450.82 170.31 L451.35 170.36 L451.87 170.41 L452.39 170.46 L452.92 170.51 L453.44 170.55 L453.96 170.60 L454.49 170.64 L455.01 170.68 L455.54 170.72 L456.06 170.75 L456.58 170.78 L457.11 170.81 L457.63 170.83 L458.15 170.86 L458.68 170.87 L459.20 170.89 L459.73 170.90 L460.25 170.91 L460.77 170.92 L461.30 170.93 L461.82 170.95 L462.35 170.96 L462.87 170.97 L463.39 170.98 L463.92 170.99 L464.44 171.00 L464.96 171.00 L465.49 171.01 L466.01 171.02 L466.54 171.03 L467.06 171.04 L467.58 171.04 L468.11 171.05 L468.63 171.06 L469.16 171.07 L469.68 171.07 L470.20 171.08 L470.73 171.08 L471.25 171.09 L471.77 171.10 L472.30 171.10 L472.82 171.11 L473.35 171.11 L473.87 171.12 L474.39 171.12 L474.92 171.13 L475.44 171.13 L475.96 171.14 L476.49 171.14 L477.01 171.14 L477.54 171.15 L478.06 171.15 L478.58 171.16 L479.11 171.16 L479.63 171.16 L480.16 171.17 L480.68 171.17 L481.20 171.17 L481.73 171.18 L482.25 171.18 L482.77 171.18 L483.30 171.18 L483.82 171.19 L484.35 171.19 L484.87 171.19 L485.39 171.20 L485.92 171.20 L486.44 171.20 L486.97 171.20 L487.49 171.20 L488.01 171.21 L488.54 171.21 L489.06 171.21 L489.58 171.21 L490.11 171.21 L490.63 171.22 L491.16 171.22 L491.68 171.22 L492.20 171.22 L492.73 171.22 L493.25 171.22 L493.78 171.23 L494.30 171.23 L494.82 171.23 L495.35 171.23 L495.87 171.23 L496.39 171.24 L496.92 171.24 L497.44 171.24 L497.97 171.24 L498.49 171.24 L499.01 171.25 L499.54 171.25 L500.06 171.25 L500.58 171.25 L501.11 171.25 L501.63 171.26 L502.16 171.26 L502.68 171.26 L503.20 171.27 L503.73 171.27 L504.25 171.27 L504.78 171.28 L505.30 171.28 L505.82 171.28 L506.35 171.29 L506.87 171.29 L507.39 171.29 L507.92 171.30 L508.44 171.30 L508.97 171.31 L509.49 171.31 L510.01 171.31 L510.54 171.32 L511.06 171.32 L511.59 171.33 L512.11 171.33 L512.63 171.34 L513.16 171.34 L513.68 171.35 L514.20 171.35 L514.73 171.36 L515.25 171.36 L515.78 171.37 L516.30 171.37 L516.82 171.38 L517.35 171.38 L517.87 171.39 L518.39 171.39 L518.92 171.40 L519.44 171.40 L519.97 171.41 L520.49 171.41 L521.01 171.42 L521.54 171.42 L522.06 171.43 L522.59 171.44 L523.11 171.44 L523.63 171.45 L524.16 171.45 L524.68 171.46" fill="none" stroke="#ff0000" stroke-width="1.5" stroke-linejoin="round"/>
<path d="M317.77 276.05 L318.29 276.05 L318.82 276.05 L319.34 276.05 L319.86 276.05 L320.39 276.05 L320.91 276.05 L321.44 276.05 L321.96 276.05 L322.48 276.05 L323.01 276.05 L323.53 276.05 L324.06 276.05 L324.58 276.05 L325.10 276.05 L325.63 276.05 L326.15 276.05 L326.67 276.05 L327.20 276.05 L327.72 276.05 L328.25 276.05 L328.77 276.05 L329.29 276.05 L329.82 276.05 L330.34 276.05 L330.86 276.05 L331.39 276.05 L331.91 276.05 L332.44 276.05 L332.96 276.05 L333.48 276.05 L334.01 276.05 L334.53 276.05 L335.06 276.05 L335.58 276.05 L336.10 276.05 L336.63 276.05 L337.15 276.05 L337.67 276.05 L338.20 276.05 L338.72 276.05 L339.25 276.05 L339.77 276.05 L340.29 276.05 L340.82 276.05 L341.34 276.05 L341.87 276.05 L342.39 276.05 L342.91 276.05 L343.44 276.05 L343.96 276.05 L344.48 276.05 L345.01 276.05 L345.53 276.05 L346.06 276.05 L346.58 276.05 L347.10 276.05 L347.63 276.05 L348.15 276.05 L348.67 276.05 L349.20 276.05 L349.72 276.05 L350.25 276.05 L350.77 276.05 L351.29 276.05 L351.82 276.05 L352.34 276.05 L352.87 276.05 L353.39 276.05 L353.91 276.05 L354.44 276.05 L354.96 276.05 L355.48 276.05 L356.01 276.05 L356.53 276.05 L357.06 276.05 L357.58 276.05 L358.10 276.05 L358.63 276.05 L359.15 276.05 L359.68 276.05 L360.20 276.05 L360.72 276.05 L361.25 276.05 L361.77 276.05 L362.29 276.05 L362.82 276.05 L363.34 276.05 L363.87 276.05 L364.39 276.05 L364.91 276.05 L365.44 276.05 L365.96 276.05 L366.49 276.05 L367.01 276.05 L367.53 276.05 L368.06 276.05 L368.58 276.05 L369.10 276.05 L369.63 276.05 L370.15 276.05 L370.68 276.05 L371.20 276.05 L371.72 276.05 L372.25 276.05 L372.77 276.05 L373.29 276.05 L373.82 276.05 L374.34 276.05 L374.87 276.05 L375.39 276.05 L375.91 276.05 L376.44 276.05 L376.96 276.05 L377.49 276.05 L378.01 276.05 L378.53 276.05 L379.06 276.05 L379.58 276.05 L380.10 276.05 L380.63 276.05 L380.63 276.05 L381.15 273.91 L381.68 271.75 L382.20 269.57 L382.72 267.36 L383.25 265.11 L383.77 262.81 L384.30 260.50 L384.82 258.19 L385.34 255.90 L385.87 253.65 L386.39 251.41 L386.91 249.19 L387.44 246.99 L387.96 244.83 L388.49 242.73 L389.01 240.66 L389.53 238.59 L390.06 236.57 L390.58 234.60 L391.10 232.73 L391.63 230.97 L392.15 229.31 L392.68 227.71 L393.20 226.16 L393.72 224.68 L394.25 223.24 L394.77 221.86 L395.30 220.52 L395.82 219.22 L396.34 217.95 L396.87 216.72 L397.39 215.52 L397.91 214.36 L398.44 213.25 L398.96 212.17 L399.49 211.14 L400.01 210.14 L400.53 209.18 L401.06 208.24 L401.58 207.33 L402.11 206.44 L402.63 205.58 L403.15 204.74 L403.68 203.93 L404.20 203.14 L404.72 202.37 L405.25 201.62 L405.77 200.90 L406.30 200.19 L406.82 199.50 L407.34 198.83 L407.87 198.16 L408.39 197.51 L408.92 196.86 L409.44 196.22 L409.96 195.59 L410.49 194.97 L411.01 194.36 L411.53 193.76 L412.06 193.17 L412.58 192.60 L413.11 192.03 L413.63 191.47 L414.15 190.91 L414.68 190.37 L415.20 189.83 L415.72 189.30 L416.25 188.79 L416.77 188.29 L417.30 187.82 L417.82 187.37 L418.34 186.93 L418.87 186.50 L419.39 186.08 L419.92 185.67 L420.44 185.27 L420.96 184.89 L421.49 184.52 L422.01 184.16 L422.53 183.82 L423.06 183.49 L423.58 183.17 L424.11 182.86 L424.63 182.56 L425.15 182.27 L425.68 181.98 L426.20 181.71 L426.73 181.44 L427.25 181.18 L427.77 180.92 L428.30 180.67 L428.82 180.43 L429.34 180.19 L429.87 179.96 L430.39 179.73 L430.92 179.51 L431.44 179.30 L431.96 179.09 L432.49 178.89 L433.01 178.70 L433.53 178.51 L434.06 178.33 L434.58 178.15 L435.11 177.97 L435.63 177.80 L436.15 177.63 L436.68 177.48 L437.20 177.33 L437.73 177.19 L438.25 177.06 L438.77 176.94 L439.30 176.82 L439.82 176.71 L440.34 176.59 L440.87 176.48 L441.39 176.38 L441.92 176.28 L442.44 176.18 L442.96 176.08 L443.49 175.99 L444.01 175.90 L444.54 175.81 L445.06 175.72 L445.58 175.64 L446.11 175.56 L446.63 175.49 L447.15 175.42 L447.68 175.35 L448.20 175.28 L448.73 175.22 L449.25 175.15 L449.77 175.09 L450.30 175.02 L450.82 174.96 L451.35 174.90 L451.87 174.84 L452.39 174.78 L452.92 174.73 L453.44 174.67 L453.96 174.62 L454.49 174.57 L455.01 174.53 L455.54 174.48 L456.06 174.44 L456.58 174.40 L457.11 174.36 L457.63 174.33 L458.15 174.30 L458.68 174.27 L459.20 174.25 L459.73 174.23 L460.25 174.21 L460.77 174.18 L461.30 174.16 L461.82 174.15 L462.35 174.13 L462.87 174.11 L463.39 174.09 L463.92 174.08 L464.44 174.06 L464.96 174.05 L465.49 174.03 L466.01 174.02 L466.54 174.00 L467.06 173.99 L467.58 173.98 L468.11 173.96 L468.63 173.95 L469.16 173.94 L469.68 173.93 L470.20 173.92 L470.73 173.91 L471.25 173.89 L471.77 173.88 L472.30 173.87 L472.82 173.86 L473.35 173.85 L473.87 173.84 L474.39 173.83 L474.92 173.82 L475.44 173.81 L475.96 173.80 L476.49 173.79 L477.01 173.78 L477.54 173.76 L478.06 173.75 L478.58 173.74 L479.11 173.73 L479.63 173.72 L480.16 173.70 L480.68 173.69 L481.20 173.68 L481.73 173.66 L482.25 173.65 L482.77 173.64 L483.30 173.62 L483.82 173.61 L484.35 173.59 L484.87 173.58 L485.39 173.57 L485.92 173.55 L486.44 173.54 L486.97 173.53 L487.49 173.51 L488.01 173.50 L488.54 173.49 L489.06 173.47 L489.58 173.46 L490.11 173.44 L490.63 173.43 L491.16 173.42 L491.68 173.40 L492.20 173.39 L492.73 173.38 L493.25 173.36 L493.78 173.35 L494.30 173.34 L494.82 173.32 L495.35 173.31 L495.87 173.29 L496.39 173.28 L496.92 173.27 L497.44 173.25 L497.97 173.24 L498.49 173.23 L499.01 173.21 L499.54 173.20 L500.06 173.18 L500.58 173.17 L501.11 173.16 L501.63 173.14 L502.16 173.13 L502.68 173.11 L503.20 173.10 L503.73 173.09 L504.25 173.07 L504.78 173.06 L505.30 173.05 L505.82 173.03 L506.35 173.02 L506.87 173.00 L507.39 172.99 L507.92 172.98 L508.44 172.96 L508.97 172.95 L509.49 172.93 L510.01 172.92 L510.54 172.91 L511.06 172.89 L511.59 172.88 L512.11 172.86 L512.63 172.85 L513.16 172.83 L513.68 172.82 L514.20 172.81 L514.73 172.79 L515.25 172.78 L515.78 172.76 L516.30 172.75 L516.82 172.74 L517.35 172.72 L517.87 172.71 L518.39 172.69 L518.92 172.68 L519.44 172.66 L519.97 172.65 L520.49 172.64 L521.01 172.62 L521.54 172.61 L522.06 172.59 L522.59 172.58 L523.11 172.56 L523.63 172.55 L524.16 172.54 L524.68 172.52" fill="none" stroke="#0cf474" stroke-width="1.65" stroke-dasharray="6.0 3.135" stroke-linejoin="round"/>
<path d="M383.51 91.78 L383.25 91.85 L382.72 91.97 L382.20 92.09 L381.68 92.22 L381.15 92.35 L380.63 92.47 L380.10 92.61 L379.58 92.74 L379.06 92.87 L378.53 93.01 L378.01 93.15 L377.49 93.29 L376.96 93.43 L376.44 93.57 L375.91 93.72 L375.39 93.86 L374.87 94.01 L374.34 94.16 L373.82 94.31 L373.29 94.46 L372.77 94.61 L372.25 94.76 L371.72 94.91 L371.20 95.07 L370.68 95.22 L370.15 95.38 L369.63 95.54 L369.10 95.70 L368.58 95.87 L368.06 96.04 L367.53 96.22 L367.01 96.40 L366.49 96.59 L365.96 96.79 L365.44 96.99 L364.91 97.20 L364.39 97.42 L363.87 97.65 L363.34 97.88 L362.82 98.12 L362.29 98.37 L361.77 98.63 L361.25 98.90 L360.72 99.17 L360.20 99.46 L359.68 99.75 L359.15 100.05 L358.63 100.36 L358.10 100.69 L357.58 101.04 L357.06 101.39 L356.53 101.76 L356.01 102.14 L355.48 102.54 L354.96 102.94 L354.44 103.36 L353.91 103.78 L353.39 104.22 L352.87 104.68 L352.34 105.17 L351.82 105.67 L351.29 106.19 L350.77 106.72 L350.25 107.26 L349.72 107.81 L349.20 108.35 L348.67 108.90 L348.15 109.44 L347.63 109.96 L347.10 110.48 L346.58 111.01 L346.06 111.54 L345.53 112.08 L345.01 112.65 L344.48 113.24 L343.96 113.88 L343.44 114.55 L342.91 115.29 L342.39 116.10 L341.87 116.97 L341.34 117.88 L340.82 118.83 L340.29 119.81 L339.77 120.84 L339.25 121.93 L338.72 123.06 L338.20 124.24 L337.67 125.46 L337.15 126.73 L336.63 128.04 L336.10 129.40 L335.58 130.81 L335.06 132.29 L334.53 133.83 L334.01 135.45 L333.48 137.16 L332.96 138.95 L332.44 140.85 L331.91 142.87 L331.39 145.02 L330.86 147.32 L330.34 149.77 L329.82 152.49 L329.29 155.57 L328.77 158.86 L328.25 162.20 L327.72 165.47 L327.20 168.56 L326.67 171.65 L326.15 174.95 L325.63 178.66 L325.10 183.10 L324.58 188.33 L324.06 193.99 L323.53 199.78 L323.01 205.91 L322.48 212.29 L321.96 218.75 L321.44 225.15 L320.91 231.56 L320.39 238.11 L319.86 244.95 L319.34 252.19 L318.82 259.81 L318.29 267.78 L317.77 276.05 M383.51 91.78 L384.03 92.05 L384.56 92.38 L385.08 92.75 L385.60 93.20 L386.13 93.73 L386.65 94.32 L387.18 94.97 L387.70 95.65 L388.22 96.35 L388.75 97.06 L389.27 97.76 L389.80 98.44 L390.32 99.10 L390.84 99.77 L391.37 100.45 L391.89 101.13 L392.41 101.83 L392.94 102.52 L393.46 103.21 L393.99 103.91 L394.51 104.60 L395.03 105.29 L395.56 105.98 L396.08 106.66 L396.61 107.32 L397.13 107.98 L397.65 108.64 L398.18 109.30 L398.70 109.95 L399.22 110.61 L399.75 111.26 L400.27 111.90 L400.80 112.54 L401.32 113.17 L401.84 113.79 L402.37 114.41 L402.89 115.01 L403.41 115.60 L403.94 116.18 L404.46 116.75 L404.99 117.32 L405.51 117.88 L406.03 118.44 L406.56 119.00 L407.08 119.54 L407.61 120.08 L408.13 120.60 L408.65 121.11 L409.18 121.61 L409.70 122.08 L410.22 122.55 L410.75 122.99 L411.27 123.42 L411.80 123.83 L412.32 124.24 L412.84 124.64 L413.37 125.02 L413.89 125.40 L414.42 125.77 L414.94 126.13 L415.46 126.47 L415.99 126.81 L416.51 127.14 L417.03 127.45 L417.56 127.76 L418.08 128.05 L418.61 128.34 L419.13 128.62 L419.65 128.89 L420.18 129.16 L420.70 129.41 L421.22 129.67 L421.75 129.91 L422.27 130.15 L422.80 130.38 L423.32 130.60 L423.84 130.82 L424.37 131.03 L424.89 131.23 L425.42 131.42 L425.94 131.61 L426.46 131.79 L426.99 131.97 L427.51 132.14 L428.03 132.31 L428.56 132.47 L429.08 132.63 L429.61 132.78 L430.13 132.94 L430.65 133.09 L431.18 133.24 L431.70 133.39 L432.23 133.54 L432.75 133.69 L433.27 133.84 L433.80 133.98 L434.32 134.12 L434.84 134.26 L435.37 134.40 L435.89 134.53 L436.42 134.67 L436.94 134.80 L437.46 134.93 L437.99 135.06 L438.51 135.18 L439.04 135.31 L439.56 135.43 L440.08 135.55 L440.61 135.67 L441.13 135.78 L441.65 135.90 L442.18 136.02 L442.70 136.13 L443.23 136.24 L443.75 136.35 L444.27 136.46 L444.80 136.57 L445.32 136.68 L445.84 136.78 L446.37 136.88 L446.89 136.99 L447.42 137.09 L447.94 137.18 L448.46 137.28 L448.99 137.38 L449.51 137.48 L450.04 137.58 L450.56 137.67 L451.08 137.77 L451.61 137.87 L452.13 137.96 L452.65 138.05 L453.18 138.15 L453.70 138.24 L454.23 138.33 L454.75 138.41 L455.27 138.50 L455.80 138.58 L456.32 138.66 L456.85 138.73 L457.37 138.81 L457.89 138.88 L458.42 138.95 L458.94 139.01 L459.46 139.07 L459.99 139.13 L460.51 139.19 L461.04 139.25 L461.56 139.31 L462.08 139.37 L462.61 139.42 L463.13 139.48 L463.65 139.53 L464.18 139.58 L464.70 139.64 L465.23 139.69 L465.75 139.74 L466.27 139.79 L466.80 139.84 L467.32 139.89 L467.85 139.93 L468.37 139.98 L468.89 140.03 L469.42 140.07 L469.94 140.12 L470.46 140.16 L470.99 140.21 L471.51 140.25 L472.04 140.29 L472.56 140.33 L473.08 140.37 L473.61 140.42 L474.13 140.46 L474.66 140.50 L475.18 140.53 L475.70 140.57 L476.23 140.61 L476.75 140.65 L477.27 140.69 L477.80 140.72 L478.32 140.76 L478.85 140.79 L479.37 140.83 L479.89 140.87 L480.42 140.90 L480.94 140.93 L481.47 140.97 L481.99 141.00 L482.51 141.04 L483.04 141.07 L483.56 141.10 L484.08 141.13 L484.61 141.16 L485.13 141.20 L485.66 141.23 L486.18 141.26 L486.70 141.29 L487.23 141.32 L487.75 141.35 L488.27 141.38 L488.80 141.40 L489.32 141.43 L489.85 141.46 L490.37 141.49 L490.89 141.52 L491.42 141.54 L491.94 141.57 L492.47 141.60 L492.99 141.62 L493.51 141.65 L494.04 141.68 L494.56 141.70 L495.08 141.73 L495.61 141.75 L496.13 141.78 L496.66 141.80 L497.18 141.83 L497.70 141.85 L498.23 141.88 L498.75 141.90 L499.28 141.92 L499.80 141.95 L500.32 141.97 L500.85 142.00 L501.37 142.02 L501.89 142.04 L502.42 142.07 L502.94 142.09 L503.47 142.11 L503.99 142.13 L504.51 142.16 L505.04 142.18 L505.56 142.20 L506.08 142.23 L506.61 142.25 L507.13 142.27 L507.66 142.29 L508.18 142.31 L508.70 142.33 L509.23 142.36 L509.75 142.38 L510.28 142.40 L510.80 142.42 L511.32 142.44 L511.85 142.46 L512.37 142.48 L512.89 142.50 L513.42 142.52 L513.94 142.54 L514.47 142.56 L514.99 142.58 L515.51 142.60 L516.04 142.62 L516.56 142.64 L517.09 142.66 L517.61 142.68 L518.13 142.70 L518.66 142.72 L519.18 142.74 L519.70 142.76 L520.23 142.77 L520.75 142.79 L521.28 142.81 L521.80 142.83 L522.32 142.85 L522.85 142.86 L523.37 142.88 L523.90 142.90 L524.42 142.91 L524.94 142.93 L525.47 142.95 L525.99 142.96 L526.25 142.97" fill="none" stroke="#0000ff" stroke-width="1.8" stroke-dasharray="2 2.27" stroke-dashoffset="1" stroke-linejoin="round"/>
<path d="M317.77 276.05 L318.29 276.05 L318.82 276.05 L319.34 276.05 L319.86 276.05 L320.39 276.05 L320.91 276.05 L321.44 276.05 L321.96 276.05 L322.48 276.05 L323.01 276.05 L323.53 276.05 L324.06 276.05 L324.58 276.05 L325.10 276.05 L325.63 276.05 L326.15 276.05 L326.67 276.05 L327.20 276.05 L327.72 276.05 L328.25 276.05 L328.77 276.05 L329.29 276.05 L329.82 276.05 L330.34 276.05 L330.86 276.05 L331.39 276.05 L331.91 276.05 L332.44 276.05 L332.96 276.05 L333.48 276.05 L334.01 276.05 L334.53 276.05 L335.06 276.05 L335.58 276.05 L336.10 276.05 L336.63 276.05 L337.15 276.05 L337.67 276.05 L338.20 276.05 L338.72 276.05 L339.25 276.05 L339.77 276.05 L340.29 276.05 L340.82 276.05 L341.34 276.05 L341.87 276.05 L342.39 276.05 L342.91 276.05 L343.44 276.05 L343.96 276.05 L344.48 276.05 L345.01 276.05 L345.53 276.05 L346.06 276.05 L346.58 276.05 L347.10 276.05 L347.63 276.05 L348.15 276.05 L348.67 276.05 L349.20 276.05 L349.72 276.05 L350.25 276.05 L350.77 276.05 L351.29 276.05 L351.82 276.05 L352.34 276.05 L352.87 276.05 L353.39 276.05 L353.91 276.05 L354.44 276.05 L354.96 276.05 L355.48 276.05 L356.01 276.05 L356.53 276.05 L357.06 276.05 L357.58 276.05 L358.10 276.05 L358.63 276.05 L359.15 276.05 L359.68 276.05 L360.20 276.05 L360.72 276.05 L361.25 276.05 L361.77 276.05 L362.29 276.05 L362.82 276.05 L363.34 276.05 L363.87 276.05 L364.39 276.05 L364.91 276.05 L365.44 276.05 L365.96 276.05 L366.49 276.05 L367.01 276.05 L367.53 276.05 L368.06 276.05 L368.58 276.05 L369.10 276.05 L369.63 276.05 L370.15 276.05 L370.68 276.05 L371.20 276.05 L371.72 276.05 L372.25 276.05 L372.77 276.05 L373.29 276.05 L373.82 276.05 L374.34 276.05 L374.87 276.05 L375.39 276.05 L375.91 276.05 L376.44 276.05 L376.96 276.05 L377.49 276.05 L378.01 276.05 L378.53 276.05 L379.06 276.05 L379.58 276.05 L380.10 276.05 L380.63 276.05 L380.63 276.05 L381.15 272.75 L381.68 269.52 L382.20 266.39 L382.72 263.34 L383.25 260.35 L383.77 257.43 L384.30 254.59 L384.82 251.85 L385.34 249.18 L385.87 246.59 L386.39 244.11 L386.91 241.77 L387.44 239.57 L387.96 237.48 L388.49 235.47 L389.01 233.50 L389.53 231.54 L390.06 229.56 L390.58 227.58 L391.10 225.62 L391.63 223.72 L392.15 221.88 L392.68 220.14 L393.20 218.45 L393.72 216.81 L394.25 215.22 L394.77 213.69 L395.30 212.21 L395.82 210.78 L396.34 209.38 L396.87 208.01 L397.39 206.68 L397.91 205.42 L398.44 204.23 L398.96 203.14 L399.49 202.12 L400.01 201.17 L400.53 200.27 L401.06 199.41 L401.58 198.57 L402.11 197.76 L402.63 196.95 L403.15 196.14 L403.68 195.32 L404.20 194.50 L404.72 193.69 L405.25 192.88 L405.77 192.10 L406.30 191.32 L406.82 190.57 L407.34 189.84 L407.87 189.13 L408.39 188.45 L408.92 187.78 L409.44 187.14 L409.96 186.50 L410.49 185.88 L411.01 185.28 L411.53 184.68 L412.06 184.10 L412.58 183.53 L413.11 182.97 L413.63 182.42 L414.15 181.88 L414.68 181.35 L415.20 180.82 L415.72 180.31 L416.25 179.81 L416.77 179.32 L417.30 178.84 L417.82 178.37 L418.34 177.90 L418.87 177.43 L419.39 176.96 L419.92 176.50 L420.44 176.04 L420.96 175.59 L421.49 175.15 L422.01 174.72 L422.53 174.29 L423.06 173.88 L423.58 173.48 L424.11 173.10 L424.63 172.73 L425.15 172.37 L425.68 172.04 L426.20 171.72 L426.73 171.40 L427.25 171.10 L427.77 170.80 L428.30 170.51 L428.82 170.22 L429.34 169.95 L429.87 169.67 L430.39 169.41 L430.92 169.15 L431.44 168.89 L431.96 168.64 L432.49 168.40 L433.01 168.16 L433.53 167.93 L434.06 167.70 L434.58 167.47 L435.11 167.25 L435.63 167.03 L436.15 166.81 L436.68 166.60 L437.20 166.39 L437.73 166.18 L438.25 165.97 L438.77 165.77 L439.30 165.57 L439.82 165.37 L440.34 165.18 L440.87 164.99 L441.39 164.80 L441.92 164.62 L442.44 164.43 L442.96 164.26 L443.49 164.08 L444.01 163.91 L444.54 163.74 L445.06 163.58 L445.58 163.42 L446.11 163.27 L446.63 163.11 L447.15 162.97 L447.68 162.82 L448.20 162.68 L448.73 162.55 L449.25 162.41 L449.77 162.28 L450.30 162.15 L450.82 162.03 L451.35 161.90 L451.87 161.78 L452.39 161.66 L452.92 161.54 L453.44 161.43 L453.96 161.32 L454.49 161.21 L455.01 161.10 L455.54 160.99 L456.06 160.89 L456.58 160.79 L457.11 160.69 L457.63 160.59 L458.15 160.49 L458.68 160.40 L459.20 160.31 L459.73 160.22 L460.25 160.13 L460.77 160.04 L461.30 159.95 L461.82 159.86 L462.35 159.78 L462.87 159.69 L463.39 159.61 L463.92 159.52 L464.44 159.44 L464.96 159.36 L465.49 159.28 L466.01 159.20 L466.54 159.12 L467.06 159.04 L467.58 158.97 L468.11 158.89 L468.63 158.81 L469.16 158.74 L469.68 158.67 L470.20 158.59 L470.73 158.52 L471.25 158.45 L471.77 158.38 L472.30 158.31 L472.82 158.24 L473.35 158.17 L473.87 158.10 L474.39 158.04 L474.92 157.97 L475.44 157.91 L475.96 157.84 L476.49 157.78 L477.01 157.72 L477.54 157.66 L478.06 157.60 L478.58 157.54 L479.11 157.48 L479.63 157.42 L480.16 157.36 L480.68 157.30 L481.20 157.25 L481.73 157.19 L482.25 157.13 L482.77 157.08 L483.30 157.03 L483.82 156.97 L484.35 156.92 L484.87 156.87 L485.39 156.82 L485.92 156.76 L486.44 156.71 L486.97 156.66 L487.49 156.61 L488.01 156.56 L488.54 156.51 L489.06 156.47 L489.58 156.42 L490.11 156.37 L490.63 156.32 L491.16 156.28 L491.68 156.23 L492.20 156.19 L492.73 156.14 L493.25 156.10 L493.78 156.05 L494.30 156.01 L494.82 155.97 L495.35 155.92 L495.87 155.88 L496.39 155.84 L496.92 155.80 L497.44 155.76 L497.97 155.72 L498.49 155.68 L499.01 155.64 L499.54 155.60 L500.06 155.56 L500.58 155.52 L501.11 155.48 L501.63 155.44 L502.16 155.41 L502.68 155.37 L503.20 155.33 L503.73 155.29 L504.25 155.26 L504.78 155.22 L505.30 155.19 L505.82 155.15 L506.35 155.11 L506.87 155.08 L507.39 155.04 L507.92 155.01 L508.44 154.97 L508.97 154.94 L509.49 154.91 L510.01 154.87 L510.54 154.84 L511.06 154.81 L511.59 154.77 L512.11 154.74 L512.63 154.71 L513.16 154.67 L513.68 154.64 L514.20 154.61 L514.73 154.58 L515.25 154.55 L515.78 154.52 L516.30 154.49 L516.82 154.46 L517.35 154.43 L517.87 154.40 L518.39 154.37 L518.92 154.34 L519.44 154.31 L519.97 154.29 L520.49 154.26 L521.01 154.23 L521.54 154.20 L522.06 154.18 L522.59 154.15 L523.11 154.13 L523.63 154.10 L524.16 154.07 L524.68 154.05 L525.20 154.03 L525.73 154.00 L526.25 153.98" fill="none" stroke="#111111" stroke-width="1.65" stroke-dasharray="2 1.4 2 4.85" stroke-linejoin="round"/>
<rect x="315.15" y="82.9" width="212.14999999999998" height="193.15" fill="none" stroke="#1c1c1c" stroke-width="1.5"/>
<path d="M315.15 276.15000000000003H527.3" stroke="#000" stroke-width="1.0" fill="none"/>
<path d="M315.15 227.76h4.8 M527.3 227.76h-4.8 M315.15 179.48h4.8 M527.3 179.48h-4.8 M315.15 131.19h4.8 M527.3 131.19h-4.8 M317.77 276.05v-4.8 M370.15 276.05v-4.8 M422.53 276.05v-4.8 M474.92 276.05v-4.8" stroke="#1a1a1a" stroke-width="1.0" fill="none"/>
<text transform="translate(60.400000000000006 281.43) scale(1 1.0)" text-anchor="end">0.0</text>
<text transform="translate(306.34999999999997 281.43) scale(1 1.0)" text-anchor="end">0.0</text>
<text transform="translate(60.400000000000006 233.15) scale(1 1.0)" text-anchor="end">0.5</text>
<text transform="translate(306.34999999999997 233.15) scale(1 1.0)" text-anchor="end">0.5</text>
<text transform="translate(60.400000000000006 184.86) scale(1 1.0)" text-anchor="end">1.0</text>
<text transform="translate(306.34999999999997 184.86) scale(1 1.0)" text-anchor="end">1.0</text>
<text transform="translate(60.400000000000006 136.57) scale(1 1.0)" text-anchor="end">1.5</text>
<text transform="translate(306.34999999999997 136.57) scale(1 1.0)" text-anchor="end">1.5</text>
<text transform="translate(73.72 296.9) scale(1 1.0)" text-anchor="middle">0</text>
<text transform="translate(319.67 296.9) scale(1 1.0)" text-anchor="middle">0</text>
<text transform="translate(126.09 296.9) scale(1 1.0)" text-anchor="middle">100</text>
<text transform="translate(372.05 296.9) scale(1 1.0)" text-anchor="middle">100</text>
<text transform="translate(178.46 296.9) scale(1 1.0)" text-anchor="middle">200</text>
<text transform="translate(424.43 296.9) scale(1 1.0)" text-anchor="middle">200</text>
<text transform="translate(230.83 296.9) scale(1 1.0)" text-anchor="middle">300</text>
<text transform="translate(476.82 296.9) scale(1 1.0)" text-anchor="middle">300</text>
<text transform="translate(283.2 296.9) scale(1 1.0)" text-anchor="middle">400</text>
<text transform="translate(529.2 296.9) scale(1 1.0)" text-anchor="middle">400</text>
<text transform="translate(175.3 320.0) scale(1 1.0)" text-anchor="middle">Time</text>
<text transform="translate(421.3 320.0) scale(1 1.0)" text-anchor="middle">Time</text>
<text transform="translate(20.3 180) rotate(-90) scale(1 1.0)" text-anchor="middle">Charge</text>
<text transform="translate(264.2 108.2) scale(1 1.0)" text-anchor="middle">(c)</text>
<text transform="translate(332.5 107.8) scale(1 1.0)" text-anchor="middle">(d)</text>
<text transform="translate(105.7 96.08) scale(1 1.0)" text-anchor="end">1e</text>
<path d="M114.5 90.5H157" stroke="#ff0000" stroke-width="1.5" fill="none"/>
<text transform="translate(105.7 111.48) scale(1 1.0)" text-anchor="end">2e</text>
<path d="M114.5 105.9H157" stroke="#0cf474" stroke-width="1.65" stroke-dasharray="6.0 3.135" fill="none"/>
<text transform="translate(105.7 126.88) scale(1 1.0)" text-anchor="end">3e</text>
<path d="M114.5 121.3H157" stroke="#ff00ff" stroke-width="1.35" stroke-dasharray="1 1.07" fill="none"/>
<text transform="translate(105.7 142.08) scale(1 1.0)" text-anchor="end">(1,1)</text>
<path d="M114.5 136.5H157" stroke="#0000ff" stroke-width="1.8" stroke-dasharray="2 2.27" fill="none"/>
<text transform="translate(105.7 157.58) scale(1 1.0)" text-anchor="end">(2,0)</text>
<path d="M114.5 152.0H157" stroke="#111111" stroke-width="1.65" stroke-dasharray="2 1.4 2 4.85" fill="none"/>
<text transform="translate(466.4 210.5) scale(0.975 1)" text-anchor="end">Q<tspan dy="4.3" font-size="12.8">a</tspan><tspan dy="-4.3"> (a)</tspan></text>
<path d="M475.7 206.8H518.2" stroke="#ff0000" stroke-width="1.5" fill="none"/>
<text transform="translate(466.4 225.9) scale(0.975 1)" text-anchor="end">Q<tspan dy="4.3" font-size="12.8">b</tspan><tspan dy="-4.3"> (a)</tspan></text>
<path d="M475.7 222.2H518.2" stroke="#0cf474" stroke-width="1.65" stroke-dasharray="6.0 3.135" fill="none"/>
<text transform="translate(466.4 241.3) scale(0.975 1)" text-anchor="end">Q<tspan dy="4.3" font-size="12.8">a</tspan><tspan dy="-4.3"> (b)</tspan></text>
<path d="M475.7 237.6H518.2" stroke="#0000ff" stroke-width="1.8" stroke-dasharray="2 2.27" fill="none"/>
<text transform="translate(466.4 256.6) scale(0.975 1)" text-anchor="end">Q<tspan dy="4.3" font-size="12.8">b</tspan><tspan dy="-4.3"> (b)</tspan></text>
<path d="M475.7 252.9H518.2" stroke="#111111" stroke-width="1.65" stroke-dasharray="2 1.4 2 4.85" fill="none"/>
</svg>
</body></html>
